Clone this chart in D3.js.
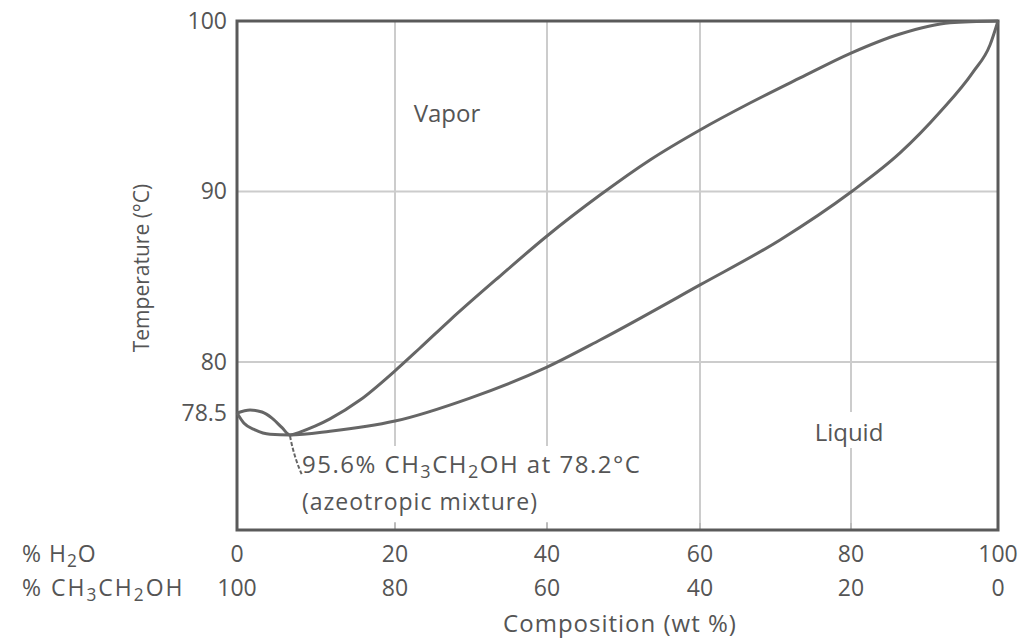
<!DOCTYPE html>
<html>
<head>
<meta charset="utf-8">
<script src="https://cdn.jsdelivr.net/npm/d3@7"></script>
<style>
  body { margin: 0; background: #fff; }
  svg text { font-family: "Open Sans", Lato, sans-serif; fill: #555; }
</style>
</head>
<body>
<div id="chart"></div>
<script>
// composition axis (wt % water) and the two boundary curves
var xTicks = [0, 20, 40, 60, 80, 100];
var ethanolTicks = [100, 80, 60, 40, 20, 0];
var yTicks = [78.5, 80, 90, 100];
var yGrid = [80, 90];

// vapor (dew point) curve, upper boundary
var vaporX = [0, 1.65, 3.16, 4.43, 5.7, 6.71, 7.97, 9.87, 11.77, 15.57, 20, 23.29, 27.24, 33.82, 40, 46.93, 53.46, 60, 66.62, 73.25, 80, 86.67, 93.47, 100];
var vaporT = [78.5, 78.59, 78.53, 78.43, 78.3, 78.2, 78.24, 78.32, 78.42, 78.88, 79.74, 80.82, 82.46, 85.04, 87.39, 89.79, 91.85, 93.61, 95.19, 96.66, 98.12, 99.24, 99.9, 100];

// liquid (bubble point) curve, lower boundary
var liquidX = [0, 0.89, 2.28, 4.18, 6.71, 11.77, 20, 29.87, 40, 46.93, 60, 70.6, 80, 86.67, 92.11, 96.6, 98.91, 100];
var liquidT = [78.5, 78.36, 78.27, 78.21, 78.2, 78.25, 78.39, 78.94, 79.85, 81.29, 84.52, 87.16, 89.97, 92.26, 94.66, 97.0, 98.59, 100];

var W = 1025, H = 639;
var svg = d3.select('#chart').append('svg')
    .attr('width', W)
    .attr('height', H);

// the drawing is schematic, so both scales are piecewise
var x = d3.scaleLinear()
    .domain(xTicks)
    .range([237, 395, 547, 700, 851, 998]);
var y = d3.scaleLinear()
    .domain([77, 78.2, 78.5, 80, 100])
    .range([530, 435, 413, 362, 21]);

// grid
svg.selectAll('.vgrid')
    .data(xTicks.slice(1, -1))
    .enter().append('line')
    .attr('x1', function(d){ return x(d); })
    .attr('x2', function(d){ return x(d); })
    .attr('y1', y(100))
    .attr('y2', y(77))
    .attr('stroke', '#ccc')
    .attr('stroke-width', 2);

svg.selectAll('.hgrid')
    .data(yGrid)
    .enter().append('line')
    .attr('x1', x(0))
    .attr('x2', x(100))
    .attr('y1', function(d){ return y(d); })
    .attr('y2', function(d){ return y(d); })
    .attr('stroke', '#ccc')
    .attr('stroke-width', 2);

// white patches behind labels that cut the grid
svg.append('rect')
    .attr('x', 298).attr('y', 446).attr('width', 362).attr('height', 76)
    .attr('fill', '#fff');
svg.append('rect')
    .attr('x', 808).attr('y', 412).attr('width', 84).attr('height', 36)
    .attr('fill', '#fff');

// small inward ticks on the bottom edge
svg.selectAll('.btick')
    .data(xTicks.slice(1, -1))
    .enter().append('line')
    .attr('x1', function(d){ return x(d); })
    .attr('x2', function(d){ return x(d); })
    .attr('y1', y(77) - 7)
    .attr('y2', y(77))
    .attr('stroke', '#bbb')
    .attr('stroke-width', 2);

// frame
svg.append('rect')
    .attr('x', x(0)).attr('y', y(100))
    .attr('width', x(100) - x(0)).attr('height', y(77) - y(100))
    .attr('fill', 'none')
    .attr('stroke', '#5a5a5a')
    .attr('stroke-width', 3);

// curves
var line = d3.line()
    .x(function(d){ return x(d[0]); })
    .y(function(d){ return y(d[1]); })
    .curve(d3.curveMonotoneX);

svg.append('path')
    .datum(d3.zip(vaporX, vaporT))
    .attr('d', line)
    .attr('fill', 'none')
    .attr('stroke', '#666')
    .attr('stroke-width', 3);

svg.append('path')
    .datum(d3.zip(liquidX, liquidT))
    .attr('d', line)
    .attr('fill', 'none')
    .attr('stroke', '#666')
    .attr('stroke-width', 3);

// y axis labels
var yAxis = d3.axisLeft(y)
    .tickValues(yTicks)
    .tickSize(0)
    .tickPadding(10)
    .tickFormat(function(d){ return d === 78.5 ? '78.5' : d; });

var gy = svg.append('g')
    .attr('transform', 'translate(' + x(0) + ',0)')
    .call(yAxis);
gy.select('.domain').remove();
gy.selectAll('text')
    .style('font-size', '23px')
    .style('font-family', '"Open Sans", sans-serif')
    .attr('fill', '#555');

svg.append('text')
    .attr('transform', 'translate(149,268) rotate(-90)')
    .attr('text-anchor', 'middle')
    .style('font-size', '21px')
    .text('Temperature (°C)');

// bottom labels, two rows
var row1 = 562, row2 = 596;
svg.selectAll('.xw')
    .data(xTicks)
    .enter().append('text')
    .attr('x', function(d){ return x(d); })
    .attr('y', row1)
    .attr('text-anchor', 'middle')
    .style('font-size', '23px')
    .text(function(d){ return d; });

svg.selectAll('.xe')
    .data(ethanolTicks)
    .enter().append('text')
    .attr('x', function(d, i){ return x(xTicks[i]); })
    .attr('y', row2)
    .attr('text-anchor', 'middle')
    .style('font-size', '23px')
    .text(function(d){ return d; });

function chem(sel, parts){
    parts.forEach(function(p){
        var t = sel.append('tspan').text(p[0]);
        if (p[1]) {
            t.style('font-size', '0.75em').attr('dy', 5);
        } else if (p[2]) {
            t.attr('dy', -5);
        }
    });
}

var h2o = svg.append('text').attr('x', 22).attr('y', row1)
    .style('font-size', '23px').style('letter-spacing', '1px');
chem(h2o, [['% H'], ['2', 1], ['O', 0, 1]]);

var etoh = svg.append('text').attr('x', 22).attr('y', row2)
    .style('font-size', '23px').style('letter-spacing', '2px');
chem(etoh, [['% CH'], ['3', 1], ['CH', 0, 1], ['2', 1], ['OH', 0, 1]]);

svg.append('text')
    .attr('x', 620).attr('y', 632)
    .attr('text-anchor', 'middle')
    .style('font-size', '24px')
    .style('letter-spacing', '1px')
    .text('Composition (wt %)');

// region labels
svg.append('text')
    .attr('x', 447).attr('y', 122)
    .attr('text-anchor', 'middle')
    .style('font-size', '24px')
    .text('Vapor');

svg.append('text')
    .attr('x', 849).attr('y', 441)
    .attr('text-anchor', 'middle')
    .style('font-size', '24px')
    .text('Liquid');

// azeotrope annotation
svg.append('path')
    .attr('d', 'M' + x(6.71) + ',' + (y(78.2) + 1) + ' Q' + (x(6.71) + 4) + ',' + (y(78.2) + 22) + ' ' + (x(6.71) + 12) + ',' + (y(78.2) + 40))
    .attr('fill', 'none')
    .attr('stroke', '#666')
    .attr('stroke-width', 2)
    .attr('stroke-dasharray', '4,2');

var az = svg.append('text').attr('x', 302).attr('y', 473)
    .style('font-size', '24px').style('letter-spacing', '1.5px');
chem(az, [['95.6% CH'], ['3', 1], ['CH', 0, 1], ['2', 1], ['OH at 78.2°C', 0, 1]]);

svg.append('text')
    .attr('x', 302).attr('y', 510)
    .style('font-size', '23px')
    .style('letter-spacing', '1px')
    .text('(azeotropic mixture)');
</script>
</body>
</html>
